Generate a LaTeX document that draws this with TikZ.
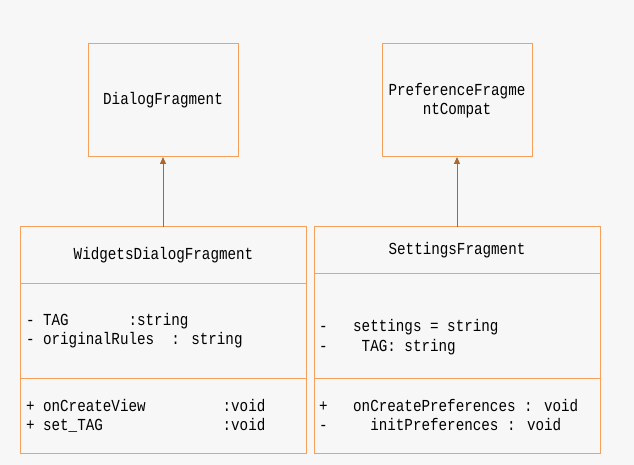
\documentclass[tikz,border=0pt]{standalone}
\usepackage{fontspec}
\setmainfont{Liberation Mono}
\usetikzlibrary{arrows.meta}
\definecolor{bg}{RGB}{247,247,247}
\definecolor{boxline}{RGB}{246,160,92}
\definecolor{arrowc}{RGB}{176,102,42}
\newcommand\tallt[1]{\scalebox{1}[1.18]{#1}}
\tikzset{
  box/.style={draw=boxline, line width=1bp, fill=bg, inner sep=0pt, outer sep=0pt, rectangle},
  txt/.style={inner sep=0pt, outer sep=0pt, font=\fontsize{14.3pt}{19pt}\selectfont, text=black},
  ltxt/.style={txt, anchor=west},
  inherit/.style={draw=arrowc, line width=1bp, -{Triangle[width=6bp,length=7bp]}}
}
\begin{document}
\begin{tikzpicture}[x=1bp,y=-1bp]
\fill[bg] (0,0) rectangle (634,465);
\useasboundingbox (0,0) rectangle (634,465);
% parents
\node[box, minimum width=150bp, minimum height=113bp] (dialog) at (163,100.5) {};
\node[txt] (dialogt) at (dialog.center) {\tallt{DialogFragment}};
\node[box, minimum width=150bp, minimum height=113bp] (pref) at (457,100.5) {};
\node[txt, align=center] (preft) at (pref.center) {\tallt{PreferenceFragme}\\\tallt{ntCompat}};
% WidgetsDialogFragment
\node[box, minimum width=285bp, minimum height=57bp] (wtitle) at (163.5,255.5) {};
\node[txt] (wtitlet) at (wtitle.center) {\tallt{WidgetsDialogFragment}};
\node[box, minimum width=285bp, minimum height=94bp] (wattr) at (163.5,331) {};
\node[box, minimum width=285bp, minimum height=75bp] (wmeth) at (163.5,415.5) {};
\node[ltxt] (wa1) at (26,321) {\tallt{- TAG~~~~~~~:string}};
\node[ltxt] (wa2) at (26,340) {\tallt{- originalRules~~: string}};
\node[ltxt] (wm1) at (26,406) {\tallt{+ onCreateView~~~~~~~~~:void}};
\node[ltxt] (wm2) at (26,425) {\tallt{+ set\_TAG~~~~~~~~~~~~~~:void}};
% SettingsFragment
\node[box, minimum width=286bp, minimum height=47bp] (stitle) at (457,250.5) {};
\node[txt] (stitlet) at (stitle.center) {\tallt{SettingsFragment}};
\node[box, minimum width=286bp, minimum height=104bp] (sattr) at (457,326) {};
\node[box, minimum width=286bp, minimum height=75bp] (smeth) at (457,415.5) {};
\node[ltxt] (sa1) at (319,327) {\tallt{-~~~settings = string}};
\node[ltxt] (sa2) at (319,347) {\tallt{-~~~~TAG: string}};
\node[ltxt] (sm1) at (319,406) {\tallt{+~~~onCreatePreferences : void}};
\node[ltxt] (sm2) at (319,425) {\tallt{-~~~~~initPreferences : void}};
% inheritance
\draw[inherit] (wtitle.north -| dialog.south) -- (dialog.south);
\draw[inherit] (stitle.north -| pref.south) -- (pref.south);
\end{tikzpicture}
\end{document}
